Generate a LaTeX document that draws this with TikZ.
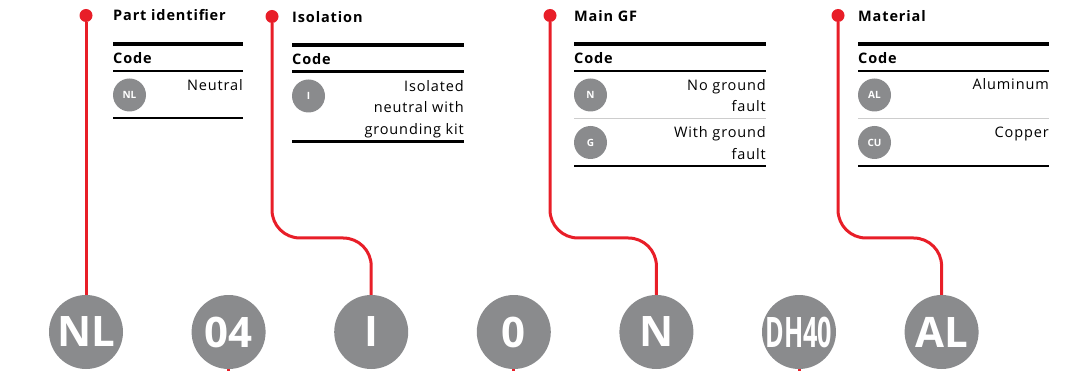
\documentclass[tikz,border=0pt]{standalone}
\usepackage{fontspec}
\setmainfont[LetterSpace=6]{Open Sans}
\newfontfamily\codefont{Open Sans}
\usetikzlibrary{positioning}
\definecolor{abbred}{RGB}{232,30,40}
\definecolor{codegray}{RGB}{138,139,141}
\definecolor{sepgray}{RGB}{205,205,205}
\tikzset{
  bigcode/.style={circle, fill=codegray, minimum size=74pt, inner sep=0pt,
                  text=white, font=\codefont\fontsize{42}{42}\selectfont\bfseries},
  smallcode/.style={circle, fill=codegray, minimum size=33pt, inner sep=0pt,
                    text=white, font=\codefont\fontsize{10}{10}\selectfont\bfseries},
  pin/.style={circle, fill=abbred, minimum size=13pt, inner sep=0pt},
  lead/.style={abbred, line width=3pt, rounded corners=28pt},
  heading/.style={anchor=base west, inner sep=0pt, font=\fontsize{14.5}{16}\selectfont\bfseries},
  entry/.style={anchor=base east, inner sep=0pt, font=\fontsize{14.5}{16}\selectfont},
  rulethick/.style={line width=4pt},
  rulethin/.style={line width=2.2pt},
  rulesep/.style={sepgray, line width=1pt}
}
% style, y, left, split, right
\newcommand{\splitrule}[5]{\draw[#1] (#3,#2) -- (#4-0.4,#2) (#4+0.4,#2) -- (#5,#2);}

\begin{document}
\begin{tikzpicture}[x=1pt, y=-1pt]
  \useasboundingbox (0,0) rectangle (1065,371);
  % code circles along the bottom
  \node[bigcode] (cNL) at (86,332) {NL};
  \node[bigcode, right=68.2pt of cNL] (c04) {04};
  \node[bigcode, right=68.2pt of c04] (cI) {I};
  \node[bigcode, right=68.2pt of cI] (c0) {0};
  \node[bigcode, right=68.2pt of c0] (cN) {N};
  \node[bigcode, right=68.2pt of cN] (cDH) {\scalebox{0.6}[1]{DH40}};
  \node[bigcode, right=68.2pt of cDH] (cAL) {AL};
  % pins and leads
  \node[pin] (pNL) at (86,15.5) {};
  \node[pin] (pI) at (272,16.5) {};
  \node[pin] (pGF) at (550,15.5) {};
  \node[pin] (pAL) at (838,15.5) {};
  \draw[lead] (pNL) -- (cNL);
  \draw[lead] (pI) -- (pI |- 0,238) -- (cI.north |- 0,238) -- (cI.north);
  \draw[lead] (pGF) -- (pGF |- 0,238) -- (cN.north |- 0,238) -- (cN.north);
  \draw[lead] (pAL) -- (pAL |- 0,238) -- (cAL.north |- 0,238) -- (cAL.north);
  \coordinate (s04) at (c04.south |- 0,371);
  \coordinate (s0) at (c0.south |- 0,371);
  \coordinate (sDH) at (cDH.south |- 0,371);
  \draw[lead] (c04.south) -- (s04);
  \draw[lead] (c0.south) -- (s0);
  \draw[lead] (cDH.south) -- (sDH);
  % part identifier
  \node[heading] (hNL) at (113,21) {Part identifier};
  \splitrule{rulethick}{44}{113}{167}{243}
  \node[heading] (kNL) at (113,64) {Code};
  \splitrule{rulethin}{71}{113}{167}{243}
  \node[smallcode] (sNL) at (129.5,95) {NL};
  \node[entry] (tNL) at (243,90.5) {Neutral};
  \splitrule{rulethin}{118}{113}{167}{243}
  % isolation
  \node[heading] (hI) at (292,22.5) {Isolation};
  \splitrule{rulethick}{45}{292}{353}{464}
  \node[heading] (kI) at (292,65) {Code};
  \splitrule{rulethin}{71.5}{292}{353}{464}
  \node[smallcode] (sI) at (308.5,96) {I};
  \node[entry] (tIa) at (464,91.5) {Isolated};
  \node[entry] (tIb) at (464,113) {neutral with};
  \node[entry] (tIc) at (464,134.5) {grounding kit};
  \splitrule{rulethin}{141.5}{292}{353}{464}
  % main GF
  \node[heading] (hGF) at (574,22) {Main GF};
  \splitrule{rulethick}{44}{574}{646}{766}
  \node[heading] (kGF) at (574,64) {Code};
  \splitrule{rulethin}{71}{574}{646}{766}
  \node[smallcode] (sN) at (590.5,95) {N};
  \node[entry] (tNa) at (766,90.5) {No ground};
  \node[entry] (tNb) at (766,112) {fault};
  \draw[rulesep] (574,118.5) -- (766,118.5);
  \node[smallcode] (sG) at (590.5,142.5) {G};
  \node[entry] (tGa) at (766,138) {With ground};
  \node[entry] (tGb) at (766,159.5) {fault};
  \splitrule{rulethin}{165.7}{574}{646}{766}
  % material
  \node[heading] (hAL) at (858,22) {Material};
  \splitrule{rulethick}{44}{858}{929}{1049}
  \node[heading] (kAL) at (858,64) {Code};
  \splitrule{rulethin}{71}{858}{929}{1049}
  \node[smallcode] (sAL) at (874.5,95) {AL};
  \node[entry] (tAL) at (1049,90) {Aluminum};
  \draw[rulesep] (858,118.5) -- (1049,118.5);
  \node[smallcode] (sCU) at (874.5,142.5) {CU};
  \node[entry] (tCU) at (1049,137.7) {Copper};
  \splitrule{rulethin}{165.7}{858}{929}{1049}
\end{tikzpicture}
\end{document}
